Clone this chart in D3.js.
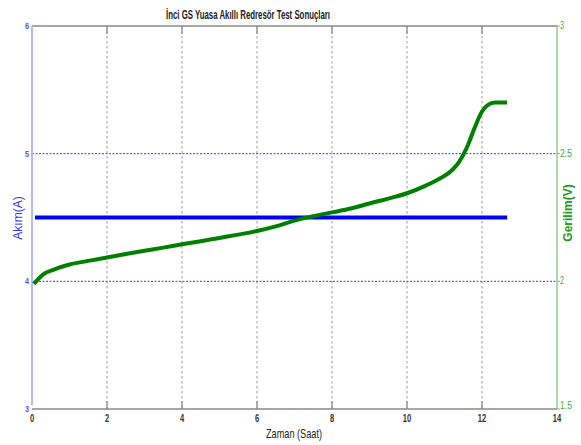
<!DOCTYPE html>
<html>
<head>
<meta charset="utf-8">
<script src="https://cdn.jsdelivr.net/npm/d3@7"></script>
<style>
  body { margin: 0; background: #fff; }
  text { font-family: "Liberation Sans Narrow", "Arial Narrow", "Liberation Sans", sans-serif; }
</style>
</head>
<body>
<div id="chart"></div>
<script>
// data
const xTicks = [0, 2, 4, 6, 8, 10, 12, 14]
const leftTicks = [3, 4, 5, 6]
const rightTicks = [1.5, 2, 2.5, 3]
const rightTickLabels = ["1.5", "2", "2.5", "3"]

// akim (A), constant
const akimTime = [0.08, 12.67]
const akimValue = [4.5, 4.5]

// gerilim (V)
const gerilimTime = [0.05, 0.3, 0.6, 1.0, 1.5, 2.0, 2.5, 3.0, 3.5, 4.0, 4.5, 5.0, 5.5, 6.0, 6.5, 7.0, 7.5,
  8.0, 8.5, 9.0, 9.5, 10.0, 10.5, 10.9, 11.2, 11.4, 11.6, 11.8, 12.0, 12.15, 12.35, 12.67]
const gerilimValue = [1.99, 2.027, 2.047, 2.066, 2.08, 2.093, 2.107, 2.12, 2.132, 2.145, 2.157, 2.17, 2.183, 2.197, 2.215, 2.238, 2.255,
  2.27, 2.285, 2.305, 2.324, 2.345, 2.375, 2.405, 2.435, 2.47, 2.525, 2.6, 2.665, 2.69, 2.70, 2.70]

const width = 581, height = 445
const margin = { top: 26, right: 24, bottom: 36, left: 32 }

const svg = d3.select("#chart").append("svg")
  .attr("width", width)
  .attr("height", height)

const x = d3.scaleLinear().domain([0, 14]).range([margin.left, width - margin.right])
const yL = d3.scaleLinear().domain([3, 6]).range([height - margin.bottom, margin.top])
const yR = d3.scaleLinear().domain([1.5, 3]).range([height - margin.bottom, margin.top])

// vertical grid (gray dashed)
svg.append("g")
  .selectAll("line")
  .data(xTicks.slice(1, -1))
  .join("line")
  .attr("x1", d => x(d)).attr("x2", d => x(d))
  .attr("y1", yL(6)).attr("y2", yL(3))
  .attr("stroke", "#aaa")
  .attr("stroke-width", 1.2)
  .attr("stroke-dasharray", "2.5,2.5")

// solid inner ticks top and bottom
svg.append("g")
  .selectAll("line")
  .data(xTicks.slice(1, -1))
  .join("line")
  .attr("x1", d => x(d)).attr("x2", d => x(d))
  .attr("y1", yL(3)).attr("y2", yL(3) - 8)
  .attr("stroke", "#999")
  .attr("stroke-width", 1.5)
svg.append("g")
  .selectAll("line")
  .data(xTicks.slice(1, -1))
  .join("line")
  .attr("x1", d => x(d)).attr("x2", d => x(d))
  .attr("y1", yL(6)).attr("y2", yL(6) + 8)
  .attr("stroke", "#999")
  .attr("stroke-width", 1.5)

// horizontal grid (blue dotted)
svg.append("g")
  .selectAll("line")
  .data([4, 5])
  .join("line")
  .attr("x1", x(0)).attr("x2", x(14))
  .attr("y1", d => yL(d)).attr("y2", d => yL(d))
  .attr("stroke", "#3a3aff")
  .attr("stroke-width", 1)
  .attr("stroke-dasharray", "2,1.5")

// frame top and bottom
svg.append("line")
  .attr("x1", x(0)).attr("x2", x(14))
  .attr("y1", yL(6)).attr("y2", yL(6))
  .attr("stroke", "#888").attr("stroke-width", 1.5)
svg.append("line")
  .attr("x1", x(0)).attr("x2", x(14))
  .attr("y1", yL(3)).attr("y2", yL(3))
  .attr("stroke", "#888").attr("stroke-width", 1.5)

// left axis
svg.append("line")
  .attr("x1", x(0)).attr("x2", x(0))
  .attr("y1", yL(6)).attr("y2", yL(3) - 4)
  .attr("stroke", "#b4b8ff").attr("stroke-width", 2)
svg.append("g")
  .selectAll("text")
  .data(leftTicks)
  .join("text")
  .attr("x", x(0) - 3)
  .attr("y", d => yL(d) + 3)
  .attr("text-anchor", "end")
  .attr("fill", "#5555ee")
  .style("font-size", "9px")
  .style("font-weight", "bold")
  .attr("textLength", 4).attr("lengthAdjust", "spacingAndGlyphs")
  .text(d => d)

// right axis
svg.append("line")
  .attr("x1", x(14)).attr("x2", x(14))
  .attr("y1", yR(3)).attr("y2", yR(1.5))
  .attr("stroke", "#7ac27a").attr("stroke-width", 1.2)
svg.append("g")
  .selectAll("line")
  .data(rightTicks)
  .join("line")
  .attr("x1", x(14)).attr("x2", x(14) + 3)
  .attr("y1", d => yR(d)).attr("y2", d => yR(d))
  .attr("stroke", "#7ac27a").attr("stroke-width", 1)
svg.append("g")
  .selectAll("text")
  .data(rightTicks)
  .join("text")
  .attr("x", x(14) + 3)
  .attr("y", (d, i) => yR(d) + (i == 0 ? 0 : 3))
  .attr("fill", "#44aa44")
  .style("font-size", "10px")
  .attr("textLength", (d, i) => rightTickLabels[i].length * 4)
  .attr("lengthAdjust", "spacingAndGlyphs")
  .text((d, i) => rightTickLabels[i])

// x tick labels
svg.append("g")
  .selectAll("text")
  .data(xTicks)
  .join("text")
  .attr("x", d => x(d))
  .attr("y", yL(3) + 13)
  .attr("text-anchor", "middle")
  .attr("fill", "#333")
  .style("font-size", "10px")
  .style("font-weight", "bold")
  .attr("textLength", d => String(d).length * 4.2)
  .attr("lengthAdjust", "spacingAndGlyphs")
  .text(d => d)

// series
const akim = akimTime.map((t, i) => ({ t: t, v: akimValue[i] }))
const gerilim = gerilimTime.map((t, i) => ({ t: t, v: gerilimValue[i] }))

svg.append("path")
  .datum(akim)
  .attr("fill", "none")
  .attr("stroke", "#0000ff")
  .attr("stroke-width", 4)
  .attr("d", d3.line().x(d => x(d.t)).y(d => yL(d.v)))

svg.append("path")
  .datum(gerilim)
  .attr("fill", "none")
  .attr("stroke", "#008000")
  .attr("stroke-width", 4)
  .attr("stroke-linejoin", "round")
  .attr("d", d3.line().curve(d3.curveMonotoneX).x(d => x(d.t)).y(d => yR(d.v)))

// titles
svg.append("text")
  .attr("x", 248)
  .attr("y", 19)
  .attr("text-anchor", "middle")
  .style("font-size", "12.5px")
  .style("font-weight", "bold")
  .attr("fill", "#222")
  .attr("textLength", 164).attr("lengthAdjust", "spacingAndGlyphs")
  .text("İnci GS Yuasa Akıllı Redresör Test Sonuçları")

svg.append("text")
  .attr("x", 294)
  .attr("y", 438)
  .attr("text-anchor", "middle")
  .style("font-size", "13px")
  .attr("fill", "#222")
  .attr("textLength", 56).attr("lengthAdjust", "spacingAndGlyphs")
  .text("Zaman (Saat)")

svg.append("text")
  .attr("transform", "translate(22,218) rotate(-90)")
  .attr("text-anchor", "middle")
  .style("font-family", "Liberation Sans, Arial, sans-serif")
  .style("font-size", "12px")
  .attr("fill", "#3333ff")
  .text("Akım(A)")

svg.append("text")
  .attr("transform", "translate(572,213) rotate(-90)")
  .attr("text-anchor", "middle")
  .style("font-family", "Liberation Sans, Arial, sans-serif")
  .style("font-size", "12px")
  .style("font-weight", "bold")
  .attr("fill", "#229922")
  .text("Gerilim(V)")
</script>
</body>
</html>
